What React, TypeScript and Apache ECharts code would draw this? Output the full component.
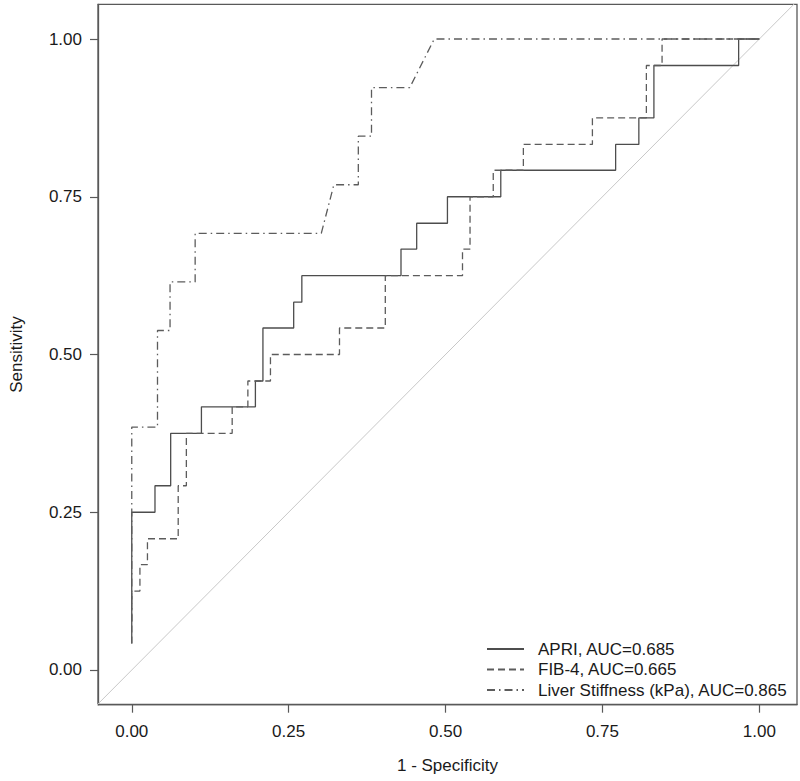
import React, { useEffect, useRef } from "react";
import * as echarts from "echarts";

// ROC curve vertices (1 - Specificity, Sensitivity)
const apriFpr = [0, 0, 0.037, 0.037, 0.062, 0.062, 0.111, 0.111, 0.197, 0.197, 0.209, 0.209, 0.258, 0.258, 0.271, 0.271, 0.429, 0.429, 0.454, 0.454, 0.503, 0.503, 0.588, 0.588, 0.771, 0.771, 0.808, 0.808, 0.832, 0.832, 0.967, 0.967, 1];
const apriTpr = [0.042, 0.25, 0.25, 0.292, 0.292, 0.375, 0.375, 0.417, 0.417, 0.458, 0.458, 0.542, 0.542, 0.583, 0.583, 0.625, 0.625, 0.667, 0.667, 0.708, 0.708, 0.75, 0.75, 0.792, 0.792, 0.833, 0.833, 0.875, 0.875, 0.958, 0.958, 1, 1];

const fib4Fpr = [0, 0, 0.013, 0.013, 0.025, 0.025, 0.074, 0.074, 0.087, 0.087, 0.16, 0.16, 0.185, 0.185, 0.221, 0.221, 0.331, 0.331, 0.404, 0.404, 0.527, 0.527, 0.539, 0.539, 0.576, 0.576, 0.624, 0.624, 0.734, 0.734, 0.82, 0.82, 0.845, 0.845, 1];
const fib4Tpr = [0.042, 0.125, 0.125, 0.167, 0.167, 0.208, 0.208, 0.292, 0.292, 0.375, 0.375, 0.417, 0.417, 0.458, 0.458, 0.5, 0.5, 0.542, 0.542, 0.625, 0.625, 0.667, 0.667, 0.75, 0.75, 0.792, 0.792, 0.833, 0.833, 0.875, 0.875, 0.958, 0.958, 1, 1];

const lsFpr = [0, 0, 0.041, 0.041, 0.061, 0.061, 0.101, 0.101, 0.302, 0.322, 0.361, 0.361, 0.382, 0.382, 0.443, 0.482, 1];
const lsTpr = [0.077, 0.385, 0.385, 0.538, 0.538, 0.615, 0.615, 0.692, 0.692, 0.769, 0.769, 0.846, 0.846, 0.923, 0.923, 1, 1];

const seriesNames = ["APRI, AUC=0.685", "FIB-4, AUC=0.665", "Liver Stiffness (kPa), AUC=0.865"];
const tickValues = [0, 0.25, 0.5, 0.75, 1];
const chanceLine = [-1, 2];

const zip = (xs: number[], ys: number[]) => xs.map((x, i) => [x, ys[i]]);

export default function App() {
  const ref = useRef<HTMLDivElement>(null);
  useEffect(() => {
    if (!ref.current) return;
    const chart = echarts.init(ref.current, null, { renderer: "svg" });
    const axisColor = "#595959";
    const font = "'Liberation Sans', Arial, sans-serif";
    const commonAxis = {
      type: "value" as const,
      nameLocation: "middle" as const,
      nameTextStyle: { fontFamily: font, fontSize: 17, color: "#1a1a1a" },
      splitLine: { show: false },
      axisLine: { show: true, onZero: false, lineStyle: { color: axisColor, width: 1.3 } },
      axisTick: { show: true, inside: false, length: 8, customValues: tickValues, lineStyle: { color: axisColor, width: 1.2 } },
      axisLabel: {
        customValues: tickValues,
        fontFamily: font,
        fontSize: 17,
        color: "#1a1a1a",
        formatter: (v: number) => v.toFixed(2),
      },
    };
    chart.setOption({
      animation: false,
      backgroundColor: "#ffffff",
      grid: {
        left: 93,
        top: 4.3,
        width: 704,
        height: 700.4,
        show: true,
        borderColor: axisColor,
        borderWidth: 1.3,
        containLabel: false,
      },
      xAxis: {
        ...commonAxis,
        min: -0.0538,
        max: 1.06,
        name: "1 - Specificity",
        nameGap: 52,
        axisLabel: { ...commonAxis.axisLabel, margin: 18 },
      },
      yAxis: {
        ...commonAxis,
        min: -0.055,
        max: 1.055,
        name: "Sensitivity",
        nameGap: 73,
        nameRotate: 90,
        axisLabel: { ...commonAxis.axisLabel, margin: 16 },
      },
      legend: {
        data: seriesNames,
        orient: "vertical",
        left: 486,
        top: 639,
        padding: 0,
        itemWidth: 37,
        itemHeight: 20,
        itemGap: 0.5,
        itemStyle: { opacity: 0 },
        textStyle: { fontFamily: font, fontSize: 17, color: "#1a1a1a", padding: [0, 0, 0, 9], lineHeight: 20 },
        selectedMode: false,
      },
      series: [
        {
          name: "chance",
          type: "line",
          data: zip(chanceLine, chanceLine),
          showSymbol: false,
          symbol: "none",
          clip: true,
          silent: true,
          lineStyle: { color: "#c8c8c8", width: 1 },
        },
        {
          name: seriesNames[0],
          type: "line",
          data: zip(apriFpr, apriTpr),
          symbol: "none",
          clip: true,
          itemStyle: { color: "#4d4d4d" },
          lineStyle: { color: "#4d4d4d", width: 1.3, type: "solid" },
        },
        {
          name: seriesNames[1],
          type: "line",
          data: zip(fib4Fpr, fib4Tpr),
          symbol: "none",
          clip: true,
          itemStyle: { color: "#5c5c5c" },
          lineStyle: { color: "#5c5c5c", width: 1.3, type: [7, 4] },
        },
        {
          name: seriesNames[2],
          type: "line",
          data: zip(lsFpr, lsTpr),
          symbol: "none",
          clip: true,
          itemStyle: { color: "#5c5c5c" },
          lineStyle: { color: "#5c5c5c", width: 1.3, type: [8, 4, 1.5, 4] },
        },
      ],
    });
    return () => chart.dispose();
  }, []);
  return <div ref={ref} style={{ width: 800, height: 781, position: "absolute", left: 0, top: 0 }} />;
}
